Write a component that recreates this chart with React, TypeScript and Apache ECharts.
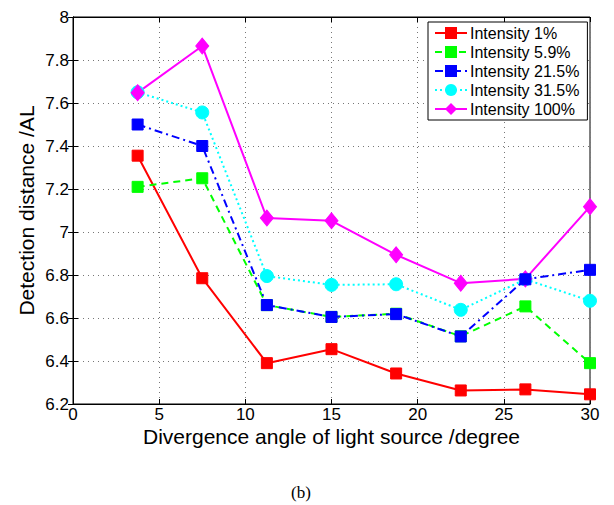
import React, { useEffect, useRef } from "react";
import * as echarts from "echarts";

const angles = [3.75, 7.5, 11.25, 15, 18.75, 22.5, 26.25, 30];
const seriesNames = ["Intensity 1%", "Intensity 5.9%", "Intensity 21.5%", "Intensity 31.5%", "Intensity 100%"];
const intensity1 = [7.355, 6.785, 6.39, 6.455, 6.342, 6.263, 6.268, 6.245];
const intensity59 = [7.21, 7.25, 6.66, 6.605, 6.62, 6.515, 6.654, 6.39];
const intensity215 = [7.5, 7.4, 6.66, 6.605, 6.618, 6.514, 6.78, 6.824];
const intensity315 = [7.65, 7.556, 6.795, 6.754, 6.757, 6.638, 6.78, 6.68];
const intensity100 = [7.648, 7.865, 7.065, 7.052, 6.894, 6.762, 6.782, 7.118];
const xTicks = [0, 5, 10, 15, 20, 25, 30];
const yTicks = [6.2, 6.4, 6.6, 6.8, 7, 7.2, 7.4, 7.6, 7.8, 8];

const colors = ["#ff0000", "#00ff00", "#0000ff", "#00ffff", "#ff00ff"];
const lineTypes: any[] = ["solid", [7, 5], [8, 4, 2, 4], [2, 3], "solid"];
const symbols = ["rect", "rect", "rect", "circle", "diamond"];
const symbolSizes: any[] = [11, 11, 11, 13, [13, 16]];
const allData = [intensity1, intensity59, intensity215, intensity315, intensity100];

export default function App() {
  const ref = useRef<HTMLDivElement>(null);
  useEffect(() => {
    if (!ref.current) return;
    const chart = echarts.init(ref.current, null, { renderer: "svg" });
    const font = "Liberation Sans, Arial, sans-serif";
    const fmt = (v: number) => String(parseFloat(v.toFixed(1)));
    chart.setOption({
      animation: false,
      backgroundColor: "#fff",
      textStyle: { fontFamily: font },
      grid: { left: 73, right: 24, top: 17, bottom: 101, show: true, borderColor: "#000", borderWidth: 1, backgroundColor: "transparent" },
      legend: {
        orient: "vertical",
        left: 428,
        top: 22,
        width: 157,
        data: seriesNames,
        itemWidth: 32,
        itemHeight: 15,
        itemGap: 3,
        padding: [3, 8, 3, 6],
        backgroundColor: "#fff",
        borderColor: "#000",
        borderWidth: 1,
        borderRadius: 0,
        textStyle: { fontSize: 16, color: "#000", fontFamily: font, padding: [0, 0, 0, -2] },
      },
      xAxis: [
        {
          type: "value",
          min: xTicks[0],
          max: xTicks[xTicks.length - 1],
          interval: 5,
          name: "Divergence angle of light source /degree",
          nameLocation: "middle",
          nameGap: 22,
          nameMoveOverlap: false,
          nameTextStyle: { fontSize: 21, color: "#000", fontFamily: font },
          axisLine: { show: true, lineStyle: { color: "#000", width: 1 } },
          axisTick: { show: true, inside: true, length: 5, lineStyle: { color: "#000" } },
          axisLabel: { fontSize: 17, color: "#000", margin: 2, fontFamily: font },
          splitLine: { show: true, lineStyle: { type: [1, 4], color: "#777" } },
        },
        {
          type: "value",
          position: "top",
          min: xTicks[0],
          max: xTicks[xTicks.length - 1],
          interval: 5,
          axisLine: { show: true, lineStyle: { color: "#000", width: 1 } },
          axisTick: { show: true, inside: true, length: 5, lineStyle: { color: "#000" } },
          axisLabel: { show: false },
          splitLine: { show: false },
        },
      ],
      yAxis: [
        {
          type: "value",
          min: yTicks[0],
          max: yTicks[yTicks.length - 1],
          interval: 0.2,
          name: "Detection distance /AL",
          nameLocation: "middle",
          nameGap: 36,
          nameMoveOverlap: false,
          nameTextStyle: { fontSize: 21, color: "#000", fontFamily: font },
          axisLine: { show: true, lineStyle: { color: "#000", width: 1 } },
          axisTick: { show: true, inside: true, length: 5, lineStyle: { color: "#000" } },
          axisLabel: { fontSize: 17, color: "#000", margin: 4, fontFamily: font, formatter: fmt },
          splitLine: { show: true, lineStyle: { type: [1, 4], color: "#777" } },
        },
        {
          type: "value",
          position: "right",
          min: yTicks[0],
          max: yTicks[yTicks.length - 1],
          interval: 0.2,
          axisLine: { show: true, lineStyle: { color: "#000", width: 1 } },
          axisTick: { show: true, inside: true, length: 5, lineStyle: { color: "#000" } },
          axisLabel: { show: false },
          splitLine: { show: false },
        },
      ],
      series: seriesNames.map((name, i) => ({
        name,
        type: "line",
        xAxisIndex: 0,
        yAxisIndex: 0,
        data: angles.map((a, j) => [a, allData[i][j]]),
        symbol: symbols[i],
        symbolSize: symbolSizes[i],
        showAllSymbol: true,
        lineStyle: { color: colors[i], width: 2, type: lineTypes[i] },
        itemStyle: { color: colors[i], borderColor: colors[i] },
        z: 2 + (i === 2 ? 1 : 0),
      })),
      graphic: [
        {
          type: "text",
          left: 291,
          top: 484,
          style: { text: "(b)", fontSize: 17, fontFamily: "Liberation Serif, Times New Roman, serif", fill: "#000" },
        },
      ],
    });
    return () => chart.dispose();
  }, []);
  return <div ref={ref} style={{ width: 614, height: 505, position: "absolute", left: 0, top: 0 }} />;
}
